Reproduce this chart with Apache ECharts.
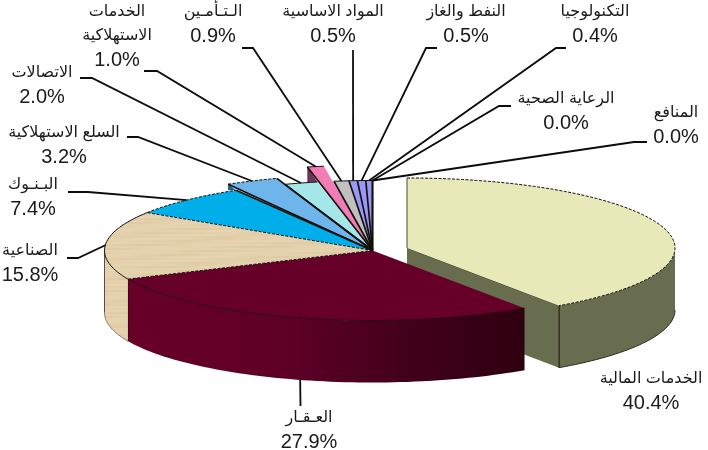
<!DOCTYPE html>
<html><head><meta charset="utf-8">
<style>html,body{margin:0;padding:0;background:#fff}#c{width:708px;height:450px}</style>
<script src="https://cdn.jsdelivr.net/npm/echarts@6/dist/echarts.min.js"></script>
</head><body><div id="c"></div>
<script>
// ---- data ----
var categories = ['الخدمات المالية','العـقـار','الصناعية','البـنـوك','السلع الاستهلاكية','الاتصالات','الخدمات\nالاستهلاكية','الـتـأمـين','المواد الاساسية','النفط والغاز','التكنولوجيا','الرعاية الصحية','المنافع'];
var values = [40.4,27.9,15.8,7.4,3.2,2.0,1.0,0.9,0.5,0.5,0.4,0.0,0.0];
var topColors = ['#E8E9B9','#660029','#E3CFA9','#00AEEA','#6DB5EA','#A5E6E8','#F27DB6','#C0C0C0','#9999F5','#9999F5','#9999F5','#9999F5','#9999F5'];

// ---- layout ----
var CX=372.5, CY=250.5, RX=268, RY=70, DEPTH=62;
var sliceOffset = {0:{dx:34.5,dy:-2.5,all:true}, 4:{dx:-8,dy:-6}, 6:{dx:-10,dy:-15}};
var labelX = [651,309,30,33,64,42,117,213,333,466,595,566,676];
var labelY = [379,418,251,185,133,73,12,12,12,12,12,99,113];
var leaderStart = [null,[300.5,406],[67,258],[68,192],[127,137],[80,78],[144,71],[242,48],[353,50],[437,48],[566,48],[511,106],[647,142]];
var leaderKnee  = [null,null,[78,258],[88,192],[138,137],[92,78],[157,71],[253,48],null,[426,48],[556,48],[499,106],[634,142]];
var FS_AR=16, FS_NUM=20;
var FONT='"Liberation Sans","DejaVu Sans",Arial,sans-serif';

function wood(){
  var c=document.createElement('canvas');c.width=260;c.height=90;
  var g=c.getContext('2d');g.fillStyle='#E4D1AD';g.fillRect(0,0,260,90);
  for(var i=0;i<90;i+=2){
    for(var x=0;x<260;x+=6){
      var s=Math.sin(i*1.7+x*0.023)+Math.sin(i*0.53+x*0.051+1);
      g.fillStyle=s>0?'rgba(245,232,205,'+(0.16*s/2)+')':'rgba(195,168,125,'+(-0.16*s/2)+')';
      g.fillRect(x,i,6,2);
    }
  }
  return c;
}
var woodFill={image:wood(),repeat:'repeat'};
var total=values.reduce(function(a,b){return a+b},0);
function cum(i){var s=0;for(var k=0;k<i;k++)s+=values[k];return s;}
function P(deg,ox,oy,dz){var t=deg*Math.PI/180;return [CX+(ox||0)+RX*Math.sin(t),CY+(oy||0)-RY*Math.cos(t)+(dz||0)];}
function arc(a,b,ox,oy,dz){var n=Math.max(2,Math.ceil(Math.abs(b-a)/1.5)),r=[];for(var i=0;i<=n;i++)r.push(P(a+(b-a)*i/n,ox,oy,dz));return r;}
var INK='#14100c';
function line(pts,w,dash,z,color){return {type:'polyline',z2:z,silent:true,shape:{points:pts},style:{fill:null,stroke:color||INK,lineWidth:w,lineDash:dash||null}};}
function poly(pts,fill,z){return {type:'polygon',z2:z,silent:true,shape:{points:pts},style:{fill:fill}};}

function renderItem(params,api){
  var i=params.dataIndex, v=api.value(0);
  var a=cum(i)/total*360, b=a+v/total*360, mid=(a+b)/2;
  var off=sliceOffset[i]||{dx:0,dy:0};
  var ch=[];
  var ax=off.all?CX+off.dx:CX, ay=off.all?CY+off.dy:CY;
  var outer=arc(a,b,off.dx,off.dy);
  var zTop=10+(i<=1?(i===0?-8:0):i);
  // walls
  var fa=Math.max(a,90), fb=Math.min(b,270);
  if(fb>fa){
    var up=arc(fa,fb,off.dx,off.dy), dn=arc(fa,fb,off.dx,off.dy,DEPTH).reverse();
    var f;
    if(i===0) f='#696D50';
    else if(i===1) f={type:'linear',global:true,x:527,y:0,x2:128,y2:0,colorStops:[{offset:0,color:'#2E000F'},{offset:0.3,color:'#42001A'},{offset:0.6,color:'#5E0026'},{offset:1,color:'#680029'}]};
    else f=woodFill;
    ch.push(poly(up.concat(dn),f,zTop-1));
    if(i===0) ch.push(line(dn,1,null,zTop-1,'#2a2a20'));
    if(i===2) ch.push(line(dn,1,null,zTop-1,'#8a7a60'));
    ch.push(line([P(fb,off.dx,off.dy),P(fb,off.dx,off.dy,DEPTH)],1,null,zTop-1,i===2?'#5a5040':'#2a0010'));
  }
  if(i===0){ // cut face of the pulled-out slice
    var e=P(b,off.dx,off.dy);
    ch.push(poly([[ax,ay],e,[e[0],e[1]+DEPTH],[ax,ay+DEPTH]],'#696D50',zTop-1));
    ch.push(line([[ax,ay],e,[e[0],e[1]+DEPTH]],1,null,zTop,'#2e2e1c'));
  }
  // small side chip of raised slices
  if(!off.all && off.dy<0){
    var c0=P(a,off.dx,off.dy);
    ch.push(poly([c0,[c0[0],c0[1]-off.dy],[c0[0]-off.dx,c0[1]-off.dy]],i===6?'#6E3558':'#2B5C7C',5));
  }
  // top
  var fillTop=i===2?woodFill:topColors[i];
  if(v>0) ch.push(poly([[ax,ay]].concat(outer),fillTop,zTop));
  // rims and spokes
  if(v>0) ch.push(line(outer,1,i===0||i===3||i===4?[3,1.5]:null,zTop+20,i===1?'#24000e':INK));
  if(i===0) ch.push(line([outer[0],[ax,ay]],1,null,zTop+20,'#4a4a30'));
  if(i>=4) ch.push(line([[ax,ay],outer[0]],1.7,null,35,INK));
  if(i===3||i===2) ch.push(line([[ax,ay],outer[0]],1,[3,1.5],35,INK));
  if(i===4) ch.push(line([[CX,CY],P(b,off.dx,off.dy)],1.7,null,35,INK));
  if(i===3) ch.push(line([[ax,ay],outer[outer.length-1]],1.7,null,35,INK));
  // label
  var lines=categories[i].split('\n'), y=labelY[i], lh=23.5;
  lines.forEach(function(t,k){
    ch.push({type:'text',z2:60,silent:true,x:labelX[i],y:y+k*lh,style:{text:t,font:FS_AR+'px '+FONT,fill:'#1a1a1a',align:'center',verticalAlign:'middle'}});
  });
  ch.push({type:'text',z2:60,silent:true,x:labelX[i],y:y+lines.length*24,style:{text:v.toFixed(1)+'%',font:FS_NUM+'px '+FONT,fill:'#1a1a1a',align:'center',verticalAlign:'middle'}});
  // leader
  if(leaderStart[i]){
    var anchor=i===1?P(mid,0,0,DEPTH):P(mid,off.dx,off.dy);
    var pts=[leaderStart[i]]; if(leaderKnee[i])pts.push(leaderKnee[i]); pts.push(anchor);
    ch.push(line(pts,1.8,null,50,'#0c0c0c'));
  }
  return {type:'group',children:ch};
}
var chart=echarts.init(document.getElementById('c'),null,{renderer:'canvas'});
chart.setOption({
  animation:false,backgroundColor:'#fff',tooltip:{show:false},
  series:[{type:'custom',coordinateSystem:'none',renderItem:renderItem,
    data:values.map(function(v,i){return {name:categories[i],value:[v]};})}]
});
</script></body></html>
